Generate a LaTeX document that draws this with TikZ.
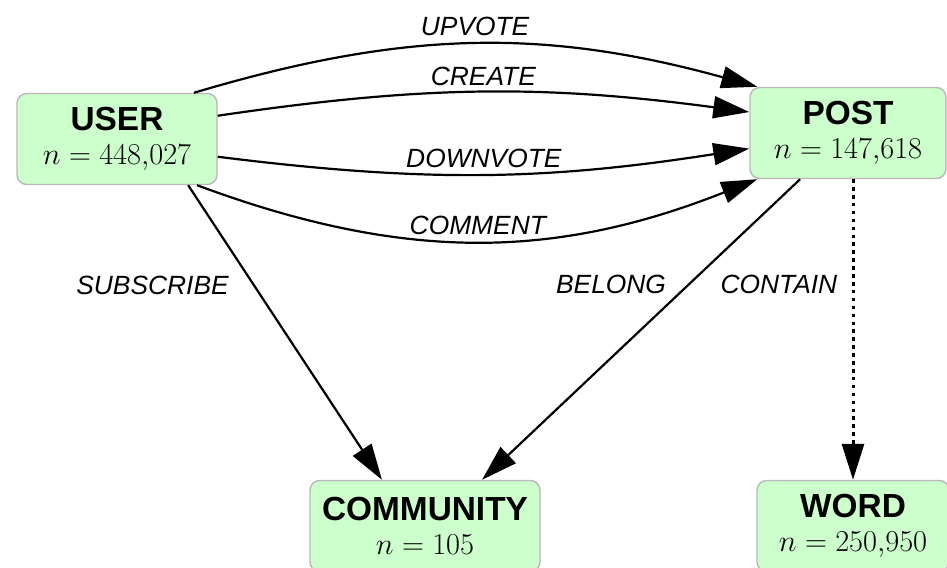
\documentclass[tikz,border=0pt]{standalone}
\usepackage{fontspec}
\setmainfont{Liberation Sans}
\usepackage{xcolor}
\usetikzlibrary{arrows.meta}
\definecolor{entgreen}{rgb}{0.80,1.00,0.80}
\definecolor{entborder}{rgb}{0.72,0.72,0.72}

\tikzset{
  entity/.style={rectangle, rounded corners=5.5pt, draw=entborder, line width=0.8pt,
    fill=entgreen, minimum height=1.82cm, align=center, inner sep=2pt,
    font=\fontsize{19}{19.5}\selectfont},
  rel/.style={line width=1.25pt, -{Triangle[length=7.2mm,width=4.4mm]}},
  lbl/.style={font=\fontsize{15}{17}\selectfont\itshape, inner sep=1pt}
}
\newcommand{\ncount}[1]{{\fontsize{16.5}{19.5}\selectfont$n = #1$}}

\begin{document}
\begin{tikzpicture}
\useasboundingbox (0,0) rectangle (18.94,11.34);
%		\draw[help lines] (0,0) grid (19,11);
\node[entity, minimum width=4cm] (user) at (2.34,8.56) {\textbf{USER}\\\ncount{448{,}027}};
\node[entity, minimum width=3.92cm] (post) at (16.96,8.68) {\textbf{POST}\\\ncount{147{,}618}};
\node[entity, minimum width=4.6cm] (community) at (8.5,0.82) {\textbf{COMMUNITY}\\\ncount{105}};
\node[entity, minimum width=3.84cm] (word) at (17.06,0.82) {\textbf{WORD}\\\ncount{250{,}950}};
% user -> post
\draw[rel] (user.31) to[bend left=16] node[lbl, midway, above=3pt] {UPVOTE} (post.153);
\draw[rel] (user.13) to[bend left=8] node[lbl, midway, above=2pt] {CREATE} (post.168);
\draw[rel] (user.-10) to[bend right=8] node[lbl, midway, above=2pt] {DOWNVOTE} (post.189);
\draw[rel] (user.-30) to[bend right=21] node[lbl, midway, above=2pt] {COMMENT} (post.207);
% into community and word
\draw[rel] (user.-33) -- node[lbl, pos=.34, left=4.5mm] {SUBSCRIBE} (community.133);
\draw[rel] (post.224) -- node[lbl, pos=.35, left=4mm] {BELONG} (community.39);
\draw[rel, line width=1.7pt, dash pattern=on 2pt off 2.5pt] (post.south -| word.north) -- node[lbl, pos=.35, left=2.5mm] {CONTAIN} (word.north);
\end{tikzpicture}
\end{document}
